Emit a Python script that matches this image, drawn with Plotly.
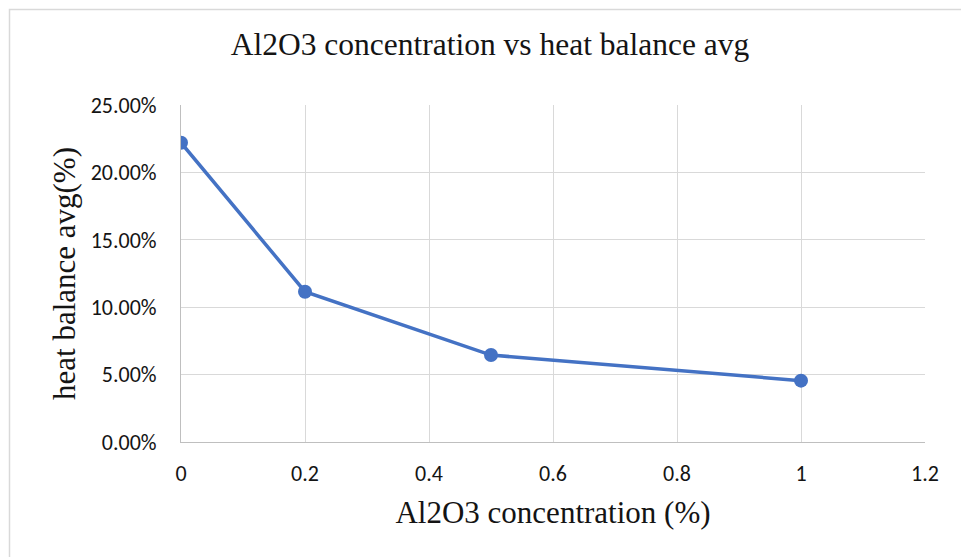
import plotly.graph_objects as go

# Al2O3 concentration (%) and measured average heat balance (fraction)
concentration = [0, 0.2, 0.5, 1.0]
heat_balance_avg = [0.222, 0.1115, 0.0645, 0.0455]

x_ticks = [0, 0.2, 0.4, 0.6, 0.8, 1.0, 1.2]
x_tick_labels = ["0", "0.2", "0.4", "0.6", "0.8", "1", "1.2"]
y_ticks = [0, 0.05, 0.10, 0.15, 0.20, 0.25]
y_tick_labels = ["0.00%", "5.00%", "10.00%", "15.00%", "20.00%", "25.00%"]

W, H = 961, 557
L, R, T, B = 181, 36, 105, 115

fig = go.Figure()
fig.add_trace(go.Scatter(
    x=concentration,
    y=heat_balance_avg,
    mode="lines+markers",
    line=dict(color="#4472C4", width=3.5),
    marker=dict(color="#4472C4", size=14),
    showlegend=False,
))

serif = "Liberation Serif, Times New Roman, serif"
sans = "Carlito, Lato, Noto Sans, sans-serif"
txt = "#141414"

fig.update_layout(
    width=W, height=H,
    margin=dict(l=L, r=R, t=T, b=B),
    paper_bgcolor="white",
    plot_bgcolor="white",
    title=dict(
        text="Al2O3 concentration vs heat balance avg",
        x=490 / W, xanchor="center",
        y=1 - 44 / H, yanchor="middle",
        font=dict(family=serif, size=31.5, color=txt),
    ),
    xaxis=dict(
        range=[0, 1.2],
        tickvals=x_ticks, ticktext=x_tick_labels,
        showgrid=True, gridcolor="#d9d9d9", gridwidth=1,
        showline=True, linecolor="#bfbfbf", linewidth=1,
        zeroline=False,
        ticks="", ticklabelstandoff=12,
        tickfont=dict(family=sans, size=22, color=txt),
        title=dict(text="Al2O3 concentration (%)",
                   font=dict(family=serif, size=31, color=txt),
                   standoff=14),
    ),
    yaxis=dict(
        range=[0, 0.25],
        tickvals=y_ticks, ticktext=y_tick_labels,
        showgrid=True, gridcolor="#d9d9d9", gridwidth=1,
        showline=True, linecolor="#bfbfbf", linewidth=1,
        zeroline=False,
        ticks="", ticklabelstandoff=19,
        tickfont=dict(family=sans, size=22, color=txt),
        title=dict(text="heat balance avg(%)",
                   font=dict(family=serif, size=31, color=txt),
                   standoff=5),
    ),
)

# light frame around the chart area (left and top edges visible)
pw, ph = W - L - R, H - T - B
def px(x):
    return (x - L) / pw
def py(y):
    return (H - B - y) / ph

fig.add_shape(type="rect", xref="paper", yref="paper",
              x0=px(9.5), x1=px(980), y0=py(9.5), y1=py(580),
              line=dict(color="#d9d9d9", width=1.5), fillcolor="rgba(0,0,0,0)",
              layer="below")

fig.write_html("out.html")
